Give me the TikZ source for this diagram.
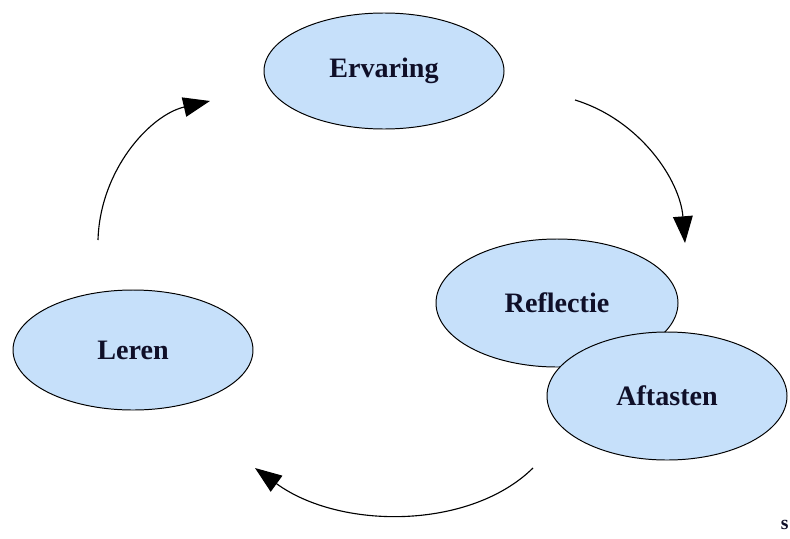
\documentclass[tikz,border=0pt]{standalone}
\usepackage{fontspec}
\setmainfont{Liberation Serif}
\usepackage{tikz}
\usetikzlibrary{shapes,arrows.meta}
\definecolor{bubble}{RGB}{198,224,250}
\definecolor{ink}{RGB}{15,15,40}
\tikzstyle{stage} = [ellipse, draw=black, line width=0.7pt, fill=bubble, minimum width=6cm, minimum height=3cm, text=ink, font=\fontsize{20}{22}\selectfont\bfseries]
\tikzstyle{arrow} = [line width=0.8pt,-{Triangle[length=19pt,width=14pt]}]

\begin{document}
\begin{tikzpicture}
    \useasboundingbox (0,0) rectangle (19.75,-13.45);

        \node (ERV) [stage, minimum height=2.9cm, xshift=9.6cm, yshift=-1.775cm] {Ervaring};
        \node (REF) [stage, minimum width=6.05cm, minimum height=3.2cm, xshift=13.925cm, yshift=-7.575cm] {Reflectie};
        \node (AFT) [stage, minimum height=3.2cm, xshift=16.675cm, yshift=-9.9cm] {Aftasten};
        \node (LER) [stage, xshift=3.325cm, yshift=-8.75cm] {Leren};

        \coordinate (ERVout) at (14.375,-2.5);
        \coordinate (REFin) at (17.125,-6.075);
        \coordinate (AFTout) at (13.325,-11.7);
        \coordinate (LERin) at (6.375,-11.7);
        \coordinate (LERout) at (2.45,-6);
        \coordinate (ERVin) at (5.25,-2.525);

        \draw [arrow] (ERVout) .. controls (16,-3) and (17,-4.5) .. (REFin);
        \draw [arrow] (AFTout) .. controls (11.75,-13.25) and (8.5,-13.25) .. (LERin);
        \draw [arrow] (LERout) .. controls (2.5,-4.25) and (3.75,-2.875) .. (ERVin);

        \node (cut) [anchor=east, inner sep=0pt, text=ink, font=\fontsize{14}{16}\selectfont\bfseries, xshift=19.72cm, yshift=-13.12cm] {s};

    \end{tikzpicture}
\end{document}
